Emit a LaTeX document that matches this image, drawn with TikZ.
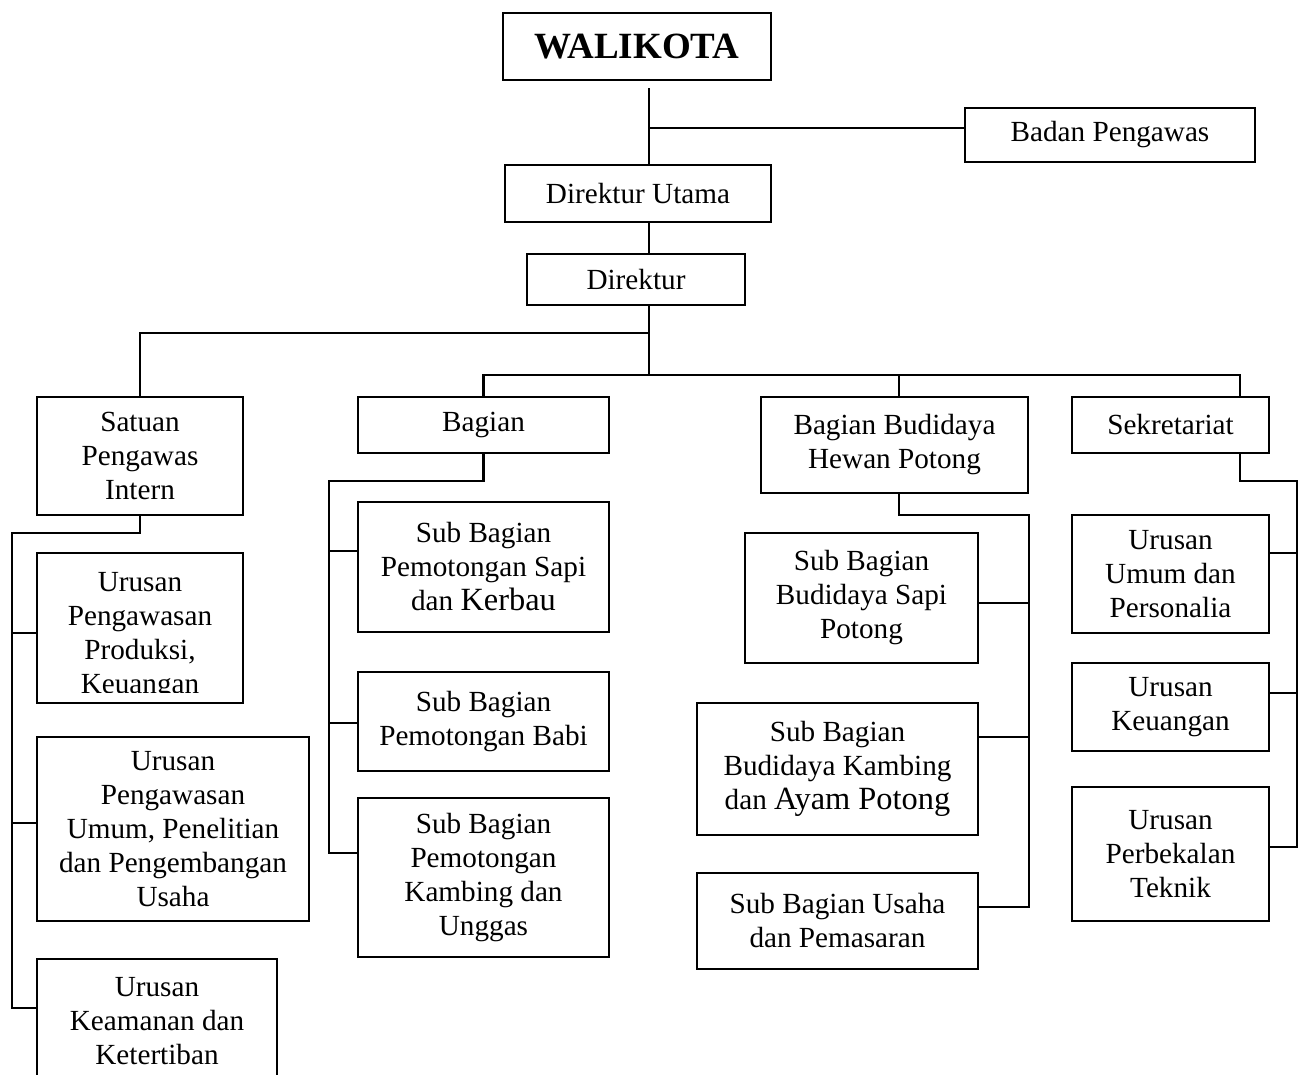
\documentclass[tikz,border=0pt]{standalone}
\usepackage{fontspec}
\setmainfont{Liberation Serif}
\begin{document}
\begin{tikzpicture}[x=0.5pt,y=-0.5pt,
  box/.style={draw, line width=1.1pt, inner sep=0pt, align=center, font=\fontsize{14.6pt}{17pt}\selectfont},
  conn/.style={line width=1.1pt}]
\useasboundingbox (0,0) rectangle (1300,1075);
\clip (0,0) rectangle (1300,1075);
% top
\node[box, minimum width=134pt, minimum height=33.5pt, font=\bfseries\fontsize{18.5pt}{22pt}\selectfont] (wal) at (637,46.5) {WALIKOTA};
\node[box, minimum width=145pt, minimum height=27pt] (badan) at (1110,135) {Badan Pengawas};
\node[box, minimum width=133pt, minimum height=28.5pt] (dirut) at (638,193.5) {Direktur Utama};
\node[box, minimum width=109pt, minimum height=25.5pt] (dir) at (636,279.5) {Direktur};
% left column
\node[box, minimum width=103pt, minimum height=59pt] (spi) at (140,456) {Satuan\\Pengawas\\Intern};
\node[box, minimum width=103pt, minimum height=75pt,
  path picture={\clip (path picture bounding box.north west) rectangle ([yshift=5.5pt]path picture bounding box.south east);
    \node[align=center, inner sep=0pt, font=\fontsize{14.6pt}{17pt}\selectfont] at ([yshift=-4.25pt]path picture bounding box.center) {Urusan\\Pengawasan\\Produksi,\\Keuangan};}] (upk) at (140,628) {};
\node[box, minimum width=136pt, minimum height=92pt] (upu) at (173,829) {Urusan\\Pengawasan\\Umum, Penelitian\\dan Pengembangan\\Usaha};
\node[box, minimum width=120pt, minimum height=62pt] (ukk) at (157,1021) {Urusan\\Keamanan dan\\Ketertiban};
% Bagian column
\node[box, minimum width=125.5pt, minimum height=28pt] (bag) at (483.5,425) {Bagian};
\node[box, minimum width=125.5pt, minimum height=65pt] (sb1) at (483.5,567) {Sub Bagian\\Pemotongan Sapi\\dan {\fontsize{16.2pt}{17pt}\selectfont Kerbau}};
\node[box, minimum width=125.5pt, minimum height=49.5pt] (sb2) at (483.5,721.5) {Sub Bagian\\Pemotongan Babi};
\node[box, minimum width=125.5pt, minimum height=79.5pt] (sb3) at (483.5,877.5) {Sub Bagian\\Pemotongan\\Kambing dan\\Unggas};
% Budidaya column
\node[box, minimum width=133.5pt, minimum height=48pt] (bbh) at (894.5,445) {Bagian Budidaya\\Hewan Potong};
\node[box, minimum width=116.5pt, minimum height=65pt] (bs1) at (861.5,598) {Sub Bagian\\Budidaya Sapi\\Potong};
\node[box, minimum width=140.5pt, minimum height=66pt] (bs2) at (837.5,769) {Sub Bagian\\Budidaya Kambing\\dan {\fontsize{16.2pt}{17pt}\selectfont Ayam Potong}};
\node[box, minimum width=140.5pt, minimum height=48pt] (bs3) at (837.5,921) {Sub Bagian Usaha\\dan Pemasaran};
% Sekretariat column
\node[box, minimum width=98.5pt, minimum height=28pt] (sek) at (1170.5,425) {Sekretariat};
\node[box, minimum width=98.5pt, minimum height=59pt] (u1) at (1170.5,574) {Urusan\\Umum dan\\Personalia};
\node[box, minimum width=98.5pt, minimum height=44pt] (u2) at (1170.5,707) {Urusan\\Keuangan};
\node[box, minimum width=98.5pt, minimum height=67pt] (u3) at (1170.5,854) {Urusan\\Perbekalan\\Teknik};
% junction coordinates
\coordinate (sx) at (649,0);
\coordinate (bb) at (649,128);
\coordinate (ja) at (649,333);
\coordinate (j) at (649,375);
\coordinate (xbbh) at (899,0);
\coordinate (xsek) at (1240,0);
\coordinate (sl) at (12,533);
\coordinate (bl) at (329,481);
\coordinate (br) at (1029,515);
\coordinate (sr) at (1297,481);
% connectors
\draw[conn] ([yshift=-3.5pt]wal.south -| sx) -- (dirut.north -| sx);
\draw[conn] (bb) -- (bb -| badan.west);
\draw[conn] (dirut.south -| sx) -- (dir.north -| sx);
\draw[conn] (dir.south -| sx) -- (j);
\draw[conn] (ja) -| (spi.north);
\draw[conn] (bag.north) |- (j -| xsek) -- (sek.north -| xsek);
\draw[conn] (j -| xbbh) -- (bbh.north -| xbbh);
% left group
\draw[conn] (spi.south) |- (sl) |- ([yshift=6.5pt]ukk.west);
\draw[conn] ([yshift=-2.5pt]upk.west) -- ([yshift=-2.5pt]upk.west -| sl);
\draw[conn] ([yshift=3pt]upu.west) -- ([yshift=3pt]upu.west -| sl);
% Bagian group
\draw[conn] (bag.south) |- (bl) |- ([yshift=12.25pt]sb3.west);
\draw[conn] ([yshift=8pt]sb1.west) -- ([yshift=8pt]sb1.west -| bl);
\draw[conn] ([yshift=-0.75pt]sb2.west) -- ([yshift=-0.75pt]sb2.west -| bl);
% Budidaya group
\draw[conn] (bbh.south -| xbbh) |- (br) |- ([yshift=7pt]bs3.east);
\draw[conn] ([yshift=-2.5pt]bs1.east) -- ([yshift=-2.5pt]bs1.east -| br);
\draw[conn] ([yshift=16pt]bs2.east) -- ([yshift=16pt]bs2.east -| br);
% Sekretariat group
\draw[conn] (sek.south -| xsek) |- (sr) |- ([yshift=3.5pt]u3.east);
\draw[conn] ([yshift=10.5pt]u1.east) -- ([yshift=10.5pt]u1.east -| sr);
\draw[conn] ([yshift=7pt]u2.east) -- ([yshift=7pt]u2.east -| sr);
\end{tikzpicture}
\end{document}
